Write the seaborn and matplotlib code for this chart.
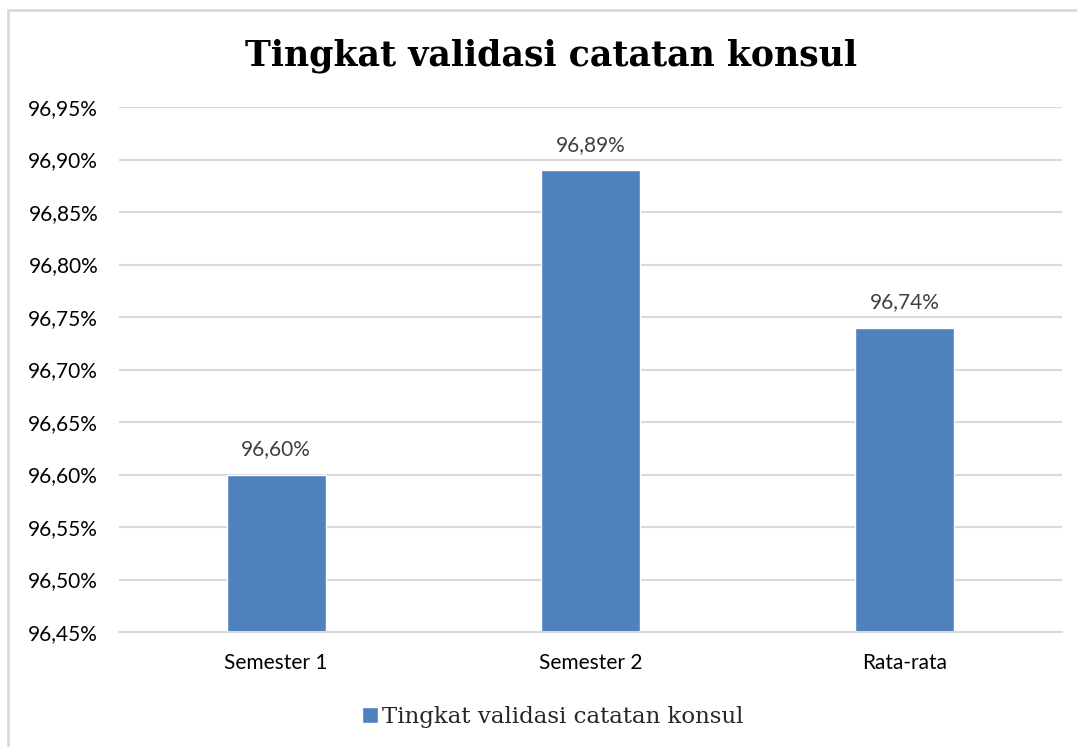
import numpy as np
import pandas as pd
import seaborn as sns
import matplotlib.pyplot as plt
from matplotlib.patches import Rectangle

categories = ["Semester 1", "Semester 2", "Rata-rata"]
values = [96.60, 96.89, 96.74]
series_name = "Tingkat validasi catatan konsul"
yticks = [96.45, 96.50, 96.55, 96.60, 96.65, 96.70, 96.75, 96.80, 96.85, 96.90, 96.95]

BAR = "#4F81BD"
GRID = "#D9D9D9"
LBL = "#404040"

sns.set_style("white")
plt.rcParams['font.family'] = ['Lato', 'DejaVu Sans']

df = pd.DataFrame({"cat": categories, "val": values})

fig = plt.figure(figsize=(10.77, 7.47), dpi=100)
# plot area: x 119..1062 px, y 107..632 px
ax = fig.add_axes([119 / 1077, 1 - 632 / 747, 943 / 1077, 525 / 747])

sns.barplot(data=df, x="cat", y="val", color=BAR, width=0.315, ax=ax,
            saturation=1, label=series_name)
ax.set_ylim(96.45, 96.95)
ax.set_yticks(yticks)
ax.set_yticklabels([f"{t:.2f}%".replace(".", ",") for t in yticks])
ax.yaxis.grid(True, color=GRID, linewidth=1.5)
ax.set_axisbelow(True)
for s in ["top", "right", "left"]:
    ax.spines[s].set_visible(False)
ax.spines["bottom"].set_color(GRID)
ax.spines["bottom"].set_linewidth(1.5)
ax.tick_params(axis="both", length=0, labelsize=15, colors="black")
ax.tick_params(axis="y", pad=15)
ax.tick_params(axis="x", pad=15)
ax.set_xlabel("")
ax.set_ylabel("")

for i, v in enumerate(values):
    ax.annotate(f"{v:.2f}%".replace(".", ","), (i, v), xytext=(0, 11),
                textcoords="offset points", ha="center", va="bottom",
                fontsize=15, color=LBL)

fig.text(551 / 1077, 0.925, "Tingkat validasi catatan konsul", ha="center", va="center",
         fontsize=25, fontweight="bold", family=["DejaVu Serif"], color="black")

leg = ax.legend(loc="center", bbox_to_anchor=(0.46, -0.162), frameon=False,
                prop={"family": "DejaVu Serif", "size": 16.5},
                handlelength=0.7, handleheight=0.7, handletextpad=0.2)

fig.patches.append(Rectangle((8 / 1077, -0.1), 1.2, 1 - 10 / 747 + 0.1,
                             transform=fig.transFigure, fill=False,
                             edgecolor=GRID, linewidth=2))

plt.savefig("out.png", dpi=100)
